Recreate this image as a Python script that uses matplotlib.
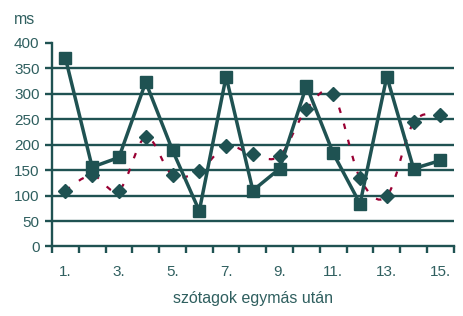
import matplotlib
matplotlib.use("Agg")
import matplotlib.pyplot as plt
import numpy as np
from matplotlib.path import Path
from matplotlib.patches import PathPatch

# syllable positions and the two measured series (ms)
syllables = list(range(1, 16))
squares = [371, 156, 175, 323, 189, 70, 334, 110, 153, 316, 183, 84, 334, 153, 169]
diamonds = [110, 140, 110, 215, 140, 149, 197, 181, 178, 270, 299, 134, 99, 244, 259]
tick_labels = ["1.", "3.", "5.", "7.", "9.", "11.", "13.", "15."]
y_ticks = list(range(0, 401, 50))

TEAL = "#1f5252"
TEXT = "#2f5f5f"
RED = "#990033"


def smooth_path(xs, ys, tension=1 / 6):
    # Catmull-Rom style bezier through the points (like a smoothed line)
    xs = np.asarray(xs, float)
    ys = np.asarray(ys, float)
    verts = [(xs[0], ys[0])]
    codes = [Path.MOVETO]
    n = len(xs)
    for i in range(n - 1):
        p0 = (xs[max(i - 1, 0)], ys[max(i - 1, 0)])
        p1 = (xs[i], ys[i])
        p2 = (xs[i + 1], ys[i + 1])
        p3 = (xs[min(i + 2, n - 1)], ys[min(i + 2, n - 1)])
        c1 = (p1[0] + (p2[0] - p0[0]) * tension, p1[1] + (p2[1] - p0[1]) * tension)
        c2 = (p2[0] - (p3[0] - p1[0]) * tension, p2[1] - (p3[1] - p1[1]) * tension)
        verts += [c1, c2, p2]
        codes += [Path.CURVE4] * 3
    return Path(verts, codes)


def main():
    plt.rcParams["font.family"] = ["Liberation Sans", "DejaVu Sans"]
    fig = plt.figure(figsize=(4.64, 3.16), dpi=100)
    ax = fig.add_axes([0.112, 0.22, 0.866, 0.644])

    for v in y_ticks[1:-1]:
        ax.axhline(v, color=TEAL, lw=1.7, zorder=1)

    ax.add_patch(PathPatch(smooth_path(syllables, diamonds), fill=False,
                           edgecolor=RED, lw=1.6, linestyle=(0, (2.5, 5)),
                           zorder=2))
    ax.plot(syllables, diamonds, linestyle="none", marker="D", ms=7.5,
            color=TEAL, zorder=3)
    ax.plot(syllables, squares, color=TEAL, lw=2.5, marker="s", ms=8.5,
            zorder=4)

    ax.set_xlim(0.5, 15.5)
    ax.set_ylim(0, 400)
    ax.set_xticks(np.arange(0.5, 16, 1))
    ax.set_xticklabels([])
    ax.set_xticks(syllables[::2], minor=True)
    ax.set_xticklabels(tick_labels, minor=True)
    ax.tick_params(axis="x", which="major", length=5, width=1.7, color=TEAL)
    ax.tick_params(axis="x", which="minor", length=0, pad=13,
                   labelsize=11, labelcolor=TEXT)
    ax.set_yticks(y_ticks)
    ax.tick_params(axis="y", length=5, width=1.7, color=TEAL,
                   labelsize=11, labelcolor=TEXT, pad=4)

    for side in ["top", "right"]:
        ax.spines[side].set_visible(False)
    for side in ["left", "bottom"]:
        ax.spines[side].set_color(TEAL)
        ax.spines[side].set_linewidth(1.7)

    ax.set_xlabel("szótagok egymás után", fontsize=11.5, color=TEXT,
                  labelpad=9)
    fig.text(0.030, 0.962, "ms", fontsize=11.5, color=TEXT, va="top")

    fig.savefig("out.png", dpi=100)


if __name__ == "__main__":
    main()
